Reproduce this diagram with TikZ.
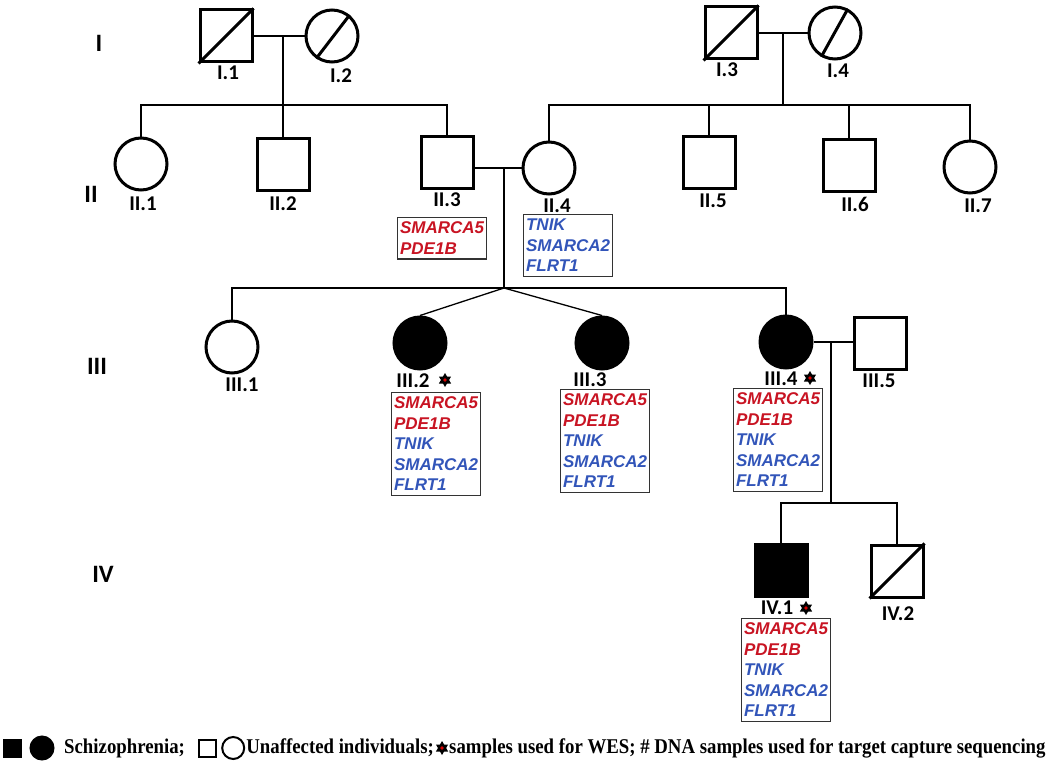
\documentclass[tikz,border=0pt]{standalone}
\usepackage{fontspec}
\setmainfont{Liberation Serif}
\newfontfamily\genefont{Liberation Sans}
\newfontfamily\labelfont{Carlito}
\usetikzlibrary{positioning}
\definecolor{genered}{RGB}{200,20,35}
\definecolor{geneblue}{RGB}{50,85,185}
\newcommand{\rg}[1]{\textcolor{genered}{#1}}
\newcommand{\bg}[1]{\textcolor{geneblue}{#1}}
\newcommand{\legtext}[1]{\scalebox{0.895}[1]{#1}}

\begin{document}
\begin{tikzpicture}[x=1pt,y=-1pt,
    male/.style={draw,rectangle,minimum size=52pt,inner sep=0pt,line width=3pt},
    female/.style={draw,circle,minimum size=52pt,inner sep=0pt,line width=3pt},
    aff/.style={fill=black},
    lab/.style={font=\labelfont\bfseries\fontsize{21}{21}\selectfont,inner sep=0pt},
    gen/.style={font=\labelfont\bfseries\fontsize{25}{25}\selectfont,inner sep=0pt},
    link/.style={line width=1.3pt},
    genes/.style={draw=black!80,line width=1.2pt,anchor=north west,align=left,text width=84pt,
      inner xsep=2.5pt,inner ysep=4.5pt,font=\genefont\bfseries\itshape\fontsize{17}{20.5}\selectfont},
    leg/.style={font=\bfseries\fontsize{21}{21}\selectfont,inner sep=0pt},
    wes/.pic={
      \fill[black] (0,-7) -- (6.1,3.5) -- (-6.1,3.5) -- cycle;
      \fill[black] (0,7) -- (6.1,-3.5) -- (-6.1,-3.5) -- cycle;
      \fill[red!85!black] (0,0) circle (1.8);}]
    \useasboundingbox (0,0) rectangle (1050,768);

      \node[gen] (gI) at (99,43) {I};
      \node[gen] (gII) at (91,194) {II};
      \node[gen] (gIII) at (97,366) {III};
      \node[gen] (gIV) at (103,574) {IV};

      \node[male] (I1) at (226,36) {};
      \node[female] (I2) at (332,36) {};
      \node[male] (I3) at (731,33) {};
      \node[female] (I4) at (835,33) {};
      \draw[line width=3pt] (I1.south west) -- (I1.north east);
      \draw[line width=3pt] (I2.235) -- (I2.50);
      \draw[line width=3pt] (I3.south west) -- (I3.north east);
      \draw[line width=3pt] (I4.240) -- (I4.62);

      \node[lab] (lI1) at (228,73) {I.1};
      \node[lab] (lI2) at (341,76) {I.2};
      \node[lab] (lI3) at (727,70) {I.3};
      \node[lab] (lI4) at (838,71) {I.4};

      \node[female] (II1) at (141,164) {};
      \node[male] (II2) at (283,164) {};
      \node[male] (II3) at (447,162) {};
      \node[female] (II4) at (549,168) {};
      \node[male] (II5) at (709,162) {};
      \node[male] (II6) at (849,165) {};
      \node[female] (II7) at (970,167) {};

      \node[lab] (lII1) at (143,204) {II.1};
      \node[lab] (lII2) at (283,204) {II.2};
      \node[lab] (lII3) at (447,200) {II.3};
      \node[lab] (lII4) at (557,206) {II.4};
      \node[lab] (lII5) at (713,201) {II.5};
      \node[lab] (lII6) at (855,204) {II.6};
      \node[lab] (lII7) at (978,206) {II.7};

      \node[female] (III1) at (232,347) {};
      \node[female,aff] (III2) at (420,343) {};
      \node[female,aff] (III3) at (602,343) {};
      \node[female,aff] (III4) at (786,342) {};
      \node[male] (III5) at (880,343) {};

      \node[lab] (lIII1) at (242,385) {III.1};
      \node[lab] (lIII2) at (413,381) {III.2};
      \node[lab] (lIII3) at (590,380) {III.3};
      \node[lab] (lIII4) at (781,379) {III.4};
      \node[lab] (lIII5) at (879,381) {III.5};
      \pic at (445,380) {wes};
      \pic at (810,378) {wes};

      \node[male,aff] (IV1) at (781,570) {};
      \node[male] (IV2) at (897,571) {};
      \draw[line width=3pt] (IV2.south west) -- (IV2.north east);
      \node[lab] (lIV1) at (777,608) {IV.1};
      \node[lab] (lIV2) at (898,614) {IV.2};
      \pic at (806,608) {wes};

      \coordinate (m1) at (283,36);
      \coordinate (s1) at (283,105);
      \coordinate (m2) at (783,33);
      \coordinate (s2) at (783,105);
      \coordinate (m3) at (504,168);
      \coordinate (s3) at (504,288);
      \coordinate (m4) at (831,342);
      \coordinate (s4) at (831,503);

      \draw[link] (I1) -- (I2);
      \draw[link] (I3) -- (I4);
      \draw[link] (II3.east |- II4.west) -- (II4.west);
      \draw[link] (III4) -- (III5.west |- III4.east);
      \draw[link] (m1) -- (s1);
      \draw[link] (m2) -- (s2);
      \draw[link] (m3) -- (s3);
      \draw[link] (m4) -- (s4);
      \draw[link] (II1.north) |- (s1) -| (II3.north);
      \draw[link] (II2.north) -- (s1);
      \draw[link] (II4.north) |- (s2) -| (II7.north);
      \draw[link] (II5.north) -- (II5.north |- s2);
      \draw[link] (II6.north) -- (II6.north |- s2);
      \draw[link] (III1.north) |- (s3) -| (III4.north);
      \draw[link] (s3) -- (III2.north);
      \draw[link] (s3) -- (III3.north);
      \draw[link] (IV1.north) |- (s4) -| (IV2.north);

      \node[genes] (gII3) at (397,217) {\rg{SMARCA5}\\\rg{PDE1B}};
      \node[genes] (gII4) at (523,214) {\bg{TNIK}\\\bg{SMARCA2}\\\bg{FLRT1}};
      \node[genes] (gIII2) at (391,392) {\rg{SMARCA5}\\\rg{PDE1B}\\\bg{TNIK}\\\bg{SMARCA2}\\\bg{FLRT1}};
      \node[genes] (gIII3) at (560,389) {\rg{SMARCA5}\\\rg{PDE1B}\\\bg{TNIK}\\\bg{SMARCA2}\\\bg{FLRT1}};
      \node[genes] (gIII4) at (733,388) {\rg{SMARCA5}\\\rg{PDE1B}\\\bg{TNIK}\\\bg{SMARCA2}\\\bg{FLRT1}};
      \node[genes] (gIV1) at (741,618) {\rg{SMARCA5}\\\rg{PDE1B}\\\bg{TNIK}\\\bg{SMARCA2}\\\bg{FLRT1}};

      \node[male,aff,minimum size=18pt,line width=1pt] (k1) at (12,748) {};
      \node[female,aff,minimum size=24pt,line width=1pt] (k2) at (42,748) {};
      \node[leg,anchor=west] (t1) at (64,748) {\legtext{Schizophrenia;}};
      \node[male,minimum size=17pt,line width=2pt] (k3) [right=13pt of t1] {};
      \node[female,minimum size=22pt,line width=2pt] (k4) [right=4pt of k3] {};
      \node[leg] (t2) [right=1pt of k4] {\legtext{Unaffected individuals;}};
      \pic at ([xshift=8pt]t2.east) {wes};
      \node[leg] (t3) [right=15pt of t2] {\legtext{samples used for WES; \# DNA samples used for target capture sequencing}};
\end{tikzpicture}
\end{document}
